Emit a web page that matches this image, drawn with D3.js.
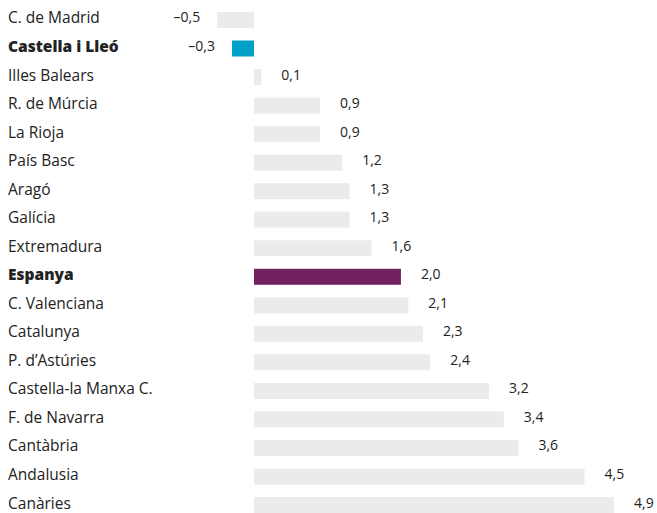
<!DOCTYPE html>
<html>
<head>
<meta charset="utf-8">
<script src="https://cdn.jsdelivr.net/npm/d3@7"></script>
<style>
  body { margin: 0; background: #fff; }
  text { font-family: "Open Sans", "Noto Sans", sans-serif; fill: #222; }
</style>
</head>
<body>
<svg id="chart"></svg>
<script>
const regions = ["C. de Madrid", "Castella i Lleó", "Illes Balears", "R. de Múrcia", "La Rioja",
  "País Basc", "Aragó", "Galícia", "Extremadura", "Espanya", "C. Valenciana", "Catalunya",
  "P. d’Astúries", "Castella-la Manxa C.", "F. de Navarra", "Cantàbria", "Andalusia", "Canàries"];
const values = [-0.5, -0.3, 0.1, 0.9, 0.9, 1.2, 1.3, 1.3, 1.6, 2.0, 2.1, 2.3, 2.4, 3.2, 3.4, 3.6, 4.5, 4.9];
const highlights = { "Castella i Lleó": "#00a0c8", "Espanya": "#722062" };

const svgWidth = 657;
const svgHeight = 513;

const svg = d3.select("#chart")
  .attr("width", svgWidth)
  .attr("height", svgHeight);

const xScale = d3.scaleLinear()
  .domain([0, 4.9])
  .range([254, 614]);

const yScale = d3.scaleBand()
  .domain(regions)
  .range([5.7, 519.3])
  .paddingInner(0.44)
  .paddingOuter(0.22);

const fmt = v => (v < 0 ? "–" : "") + d3.format(".1f")(Math.abs(v)).replace(".", ",");

const rows = regions.map((r, i) => ({ name: r, value: values[i] }));

svg.selectAll("rect.bar")
  .data(rows)
  .enter()
  .append("rect")
  .attr("class", "bar")
  .attr("x", d => xScale(Math.min(0, d.value)))
  .attr("y", d => yScale(d.name))
  .attr("width", d => Math.abs(xScale(d.value) - xScale(0)))
  .attr("height", yScale.bandwidth())
  .attr("fill", d => highlights[d.name] || "#ebebeb");

// category labels
svg.selectAll("text.cat")
  .data(rows)
  .enter()
  .append("text")
  .attr("class", "cat")
  .attr("x", 8)
  .attr("y", d => yScale(d.name) + yScale.bandwidth() / 2 + 3.5)
  .attr("font-size", 15.5)
  .attr("font-weight", d => highlights[d.name] ? 800 : 400)
  .text(d => d.name);

// value labels
svg.selectAll("text.val")
  .data(rows)
  .enter()
  .append("text")
  .attr("class", "val")
  .attr("x", d => d.value < 0 ? xScale(d.value) - 17 : xScale(d.value) + 20)
  .attr("y", d => yScale(d.name) + yScale.bandwidth() / 2 + 2.5)
  .attr("text-anchor", d => d.value < 0 ? "end" : "start")
  .attr("font-size", 14)
  .text(d => fmt(d.value));
</script>
</body>
</html>
